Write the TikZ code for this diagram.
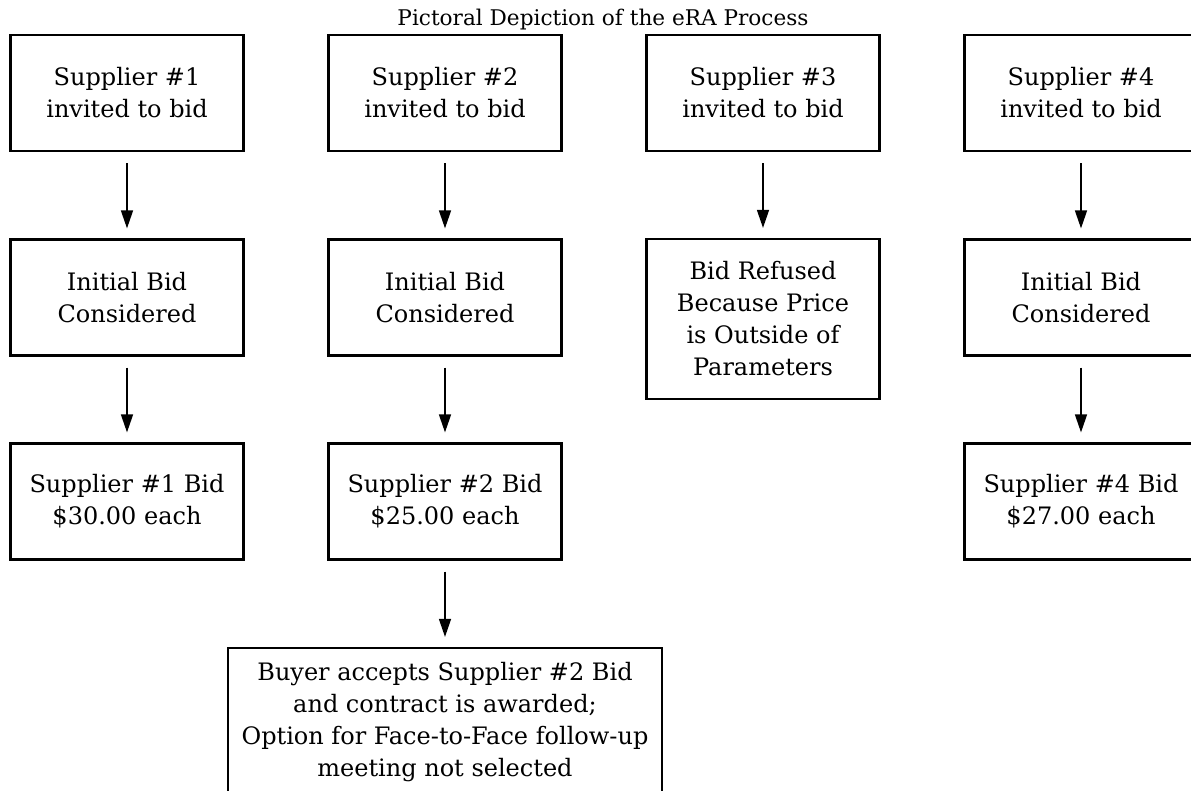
\documentclass[tikz,border=0pt]{standalone}
\usepackage{fontspec}
\setmainfont{DejaVu Serif}
\usetikzlibrary{arrows.meta, positioning}

\begin{document}
\begin{tikzpicture}[x=0.5pt, y=-0.5pt,
    stage/.style={draw, line width=1.1pt, minimum width=116.5pt, minimum height=58pt,
        align=center, inner sep=0pt, font=\fontsize{12}{16}\selectfont},
    flow/.style={-{Triangle[length=9pt, width=6pt]}, line width=0.75pt,
        shorten >=5pt, shorten <=5.5pt}]
    \useasboundingbox (0,0) rectangle (1191,791);

    % Title
    \node[font=\fontsize{10.8}{13}\selectfont] (title) at (603,20) {Pictoral Depiction of the eRA Process};

    % Invitations
    \node[stage] (inv1) at (127,93) {Supplier \#1\\invited to bid};
    \node[stage] (inv2) at (445,93) {Supplier \#2\\invited to bid};
    \node[stage] (inv3) at (763,93) {Supplier \#3\\invited to bid};
    \node[stage] (inv4) at (1081,93) {Supplier \#4\\invited to bid};

    % Initial bids
    \node[stage] (init1) at (127,297.5) {Initial Bid\\Considered};
    \node[stage] (init2) at (445,297.5) {Initial Bid\\Considered};
    \node[stage, minimum height=80pt] (refused) at (763,319) {Bid Refused\\Because Price\\is Outside of\\Parameters};
    \node[stage] (init4) at (1081,297.5) {Initial Bid\\Considered};

    % Final bids
    \node[stage] (bid1) at (127,501.5) {Supplier \#1 Bid\\\$30.00 each};
    \node[stage] (bid2) at (445,501.5) {Supplier \#2 Bid\\\$25.00 each};
    \node[stage] (bid4) at (1081,501.5) {Supplier \#4 Bid\\\$27.00 each};

    % Award
    \node[stage, minimum width=217pt, minimum height=74pt] (award) at (445,722)
        {Buyer accepts Supplier \#2 Bid\\and contract is awarded;\\Option for Face-to-Face follow-up\\meeting not selected};

    % Arrows
    \draw[flow] (inv1) -- (init1);
    \draw[flow] (inv2) -- (init2);
    \draw[flow] (inv3) -- (refused);
    \draw[flow] (inv4) -- (init4);
    \draw[flow] (init1) -- (bid1);
    \draw[flow] (init2) -- (bid2);
    \draw[flow] (init4) -- (bid4);
    \draw[flow] (bid2) -- (award);
\end{tikzpicture}
\end{document}
